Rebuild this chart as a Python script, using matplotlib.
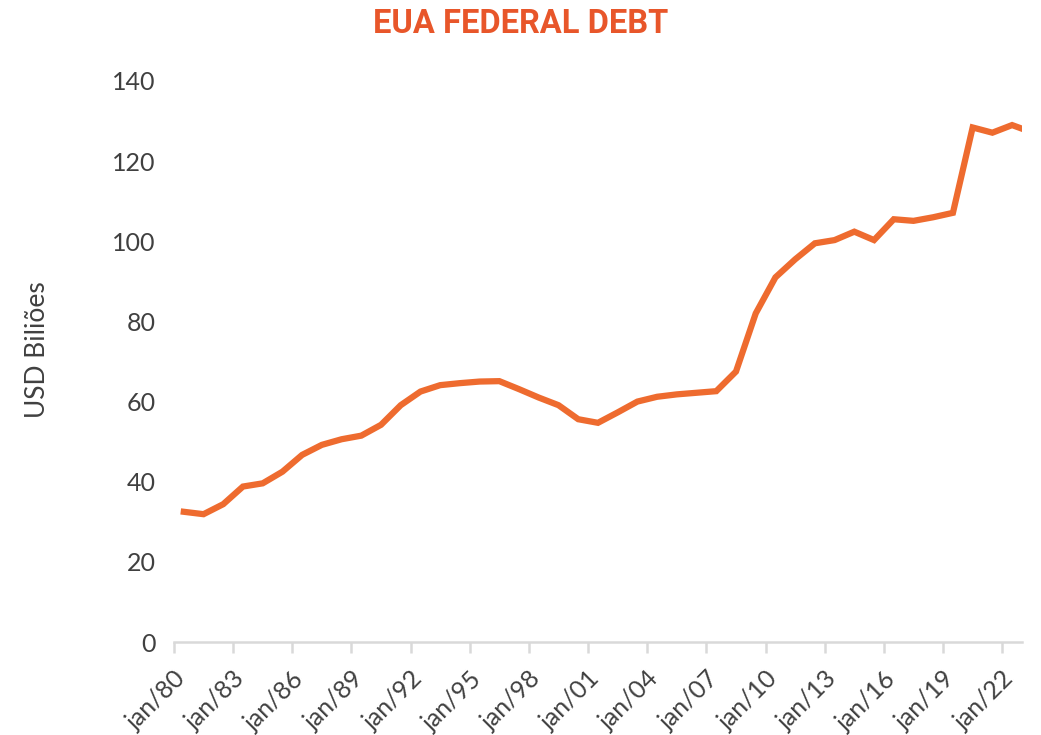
import matplotlib
matplotlib.use("Agg")
import matplotlib.pyplot as plt

# annual values, plotted at mid-year
years = list(range(1980, 2024))
debt = [32.5, 31.9, 34.4, 38.8, 39.6, 42.5, 46.7, 49.2, 50.6, 51.5,
        54.2, 59.1, 62.5, 64.1, 64.6, 65.0, 65.1, 63.1, 61.0, 59.1,
        55.6, 54.7, 57.3, 60.0, 61.2, 61.8, 62.2, 62.6, 67.5, 82.0,
        91.0, 95.5, 99.5, 100.3, 102.4, 100.3, 105.5, 105.1, 106.0, 107.1,
        128.4, 127.1, 129.0, 127.2]
tick_years = list(range(1980, 2023, 3))
tick_labels = ["jan/%02d" % (y % 100) for y in tick_years]
y_ticks = [0, 20, 40, 60, 80, 100, 120, 140]

plt.rcParams['font.family'] = ['Lato', 'DejaVu Sans']

fig = plt.figure(figsize=(10.41, 7.35), dpi=100)
ax = fig.add_axes([0.1671, 0.1265, 0.8146, 0.7633])

x = [y + 0.5 for y in years]
ax.plot(x, debt, color="#EE6B2F", lw=4.5, solid_joinstyle="miter", clip_on=True)

ax.set_xlim(1980, 2023)
ax.set_ylim(0, 140)

ax.set_xticks(tick_years)
ax.set_xticklabels(tick_labels, rotation=45, ha="right", va="top",
                   rotation_mode="anchor", fontsize=18, color="#404040")
ax.set_yticks(y_ticks)
ax.set_yticklabels([str(v) for v in y_ticks], fontsize=18, color="#404040")

for s in ["top", "right", "left"]:
    ax.spines[s].set_visible(False)
ax.spines["bottom"].set_color("#D9D9D9")
ax.spines["bottom"].set_linewidth(1.8)
ax.tick_params(axis="x", length=8, width=1.8, color="#D9D9D9", pad=10)
ax.tick_params(axis="y", length=0, pad=13)

ax.set_ylabel("USD Biliões", fontsize=19, color="#404040")
ax.yaxis.set_label_coords(-0.146, 0.521)

fig.text(0.5005, 0.968, "EUA FEDERAL DEBT", ha="center", va="center",
         fontsize=23.5, fontweight="bold", color="#E8562A",
         family=["Roboto", "DejaVu Sans"])

fig.savefig("out.png", dpi=100)
